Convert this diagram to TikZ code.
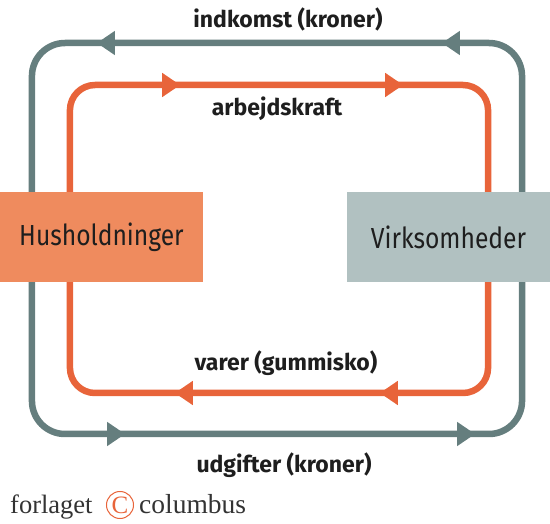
\documentclass[tikz,border=0pt]{standalone}
\usepackage{fontspec}
\setmainfont{Fira Sans}
\newfontfamily\labfont{Fira Sans}
\newfontfamily\boxfont{Fira Sans}[FakeStretch=0.85]
\newfontfamily\logofont{Liberation Serif}
\usetikzlibrary{arrows.meta,decorations.markings}
\definecolor{greyline}{HTML}{657E7E}
\definecolor{orangeline}{HTML}{E8643A}
\definecolor{orangebox}{HTML}{EF8B5E}
\definecolor{greybox}{HTML}{B1C1C1}
\definecolor{txt}{HTML}{1E1E1E}
\definecolor{logotxt}{HTML}{333333}
\tikzset{
  flowbox/.style={minimum width=203pt,minimum height=90pt,inner sep=0pt,font=\boxfont\fontsize{29}{30}\selectfont,text=txt},
  loopline/.style={line width=6.5pt},
  flowlabel/.style={font=\labfont\bfseries\fontsize{23}{25}\selectfont,text=txt,inner sep=0pt},
  mk/.style 2 args={postaction=decorate,decoration={markings,
     mark=at position #1pt with {\arrow{Triangle[length=18pt,width=23pt]}},
     mark=at position #2pt with {\arrow{Triangle[length=18pt,width=23pt]}}}}
}
\begin{document}
\begin{tikzpicture}[x=1pt,y=-1pt]
\useasboundingbox (0,0) rectangle (550,524);
\node[flowbox,fill=orangebox] (H) at (101.5,237) {Husholdninger};
\node[flowbox,fill=greybox] (V) at (448.5,237) {Virksomheder};
% grey top: indkomst
\draw[loopline,draw=greyline,rounded corners=33pt,mk={214.8}{559.8}]
  ([xshift=-28pt]V.north east) -- (522,43) -- (32,43) -- ([xshift=32pt]H.north west);
% orange top: arbejdskraft
\draw[loopline,draw=orangeline,rounded corners=25pt,mk={206.3}{429.3}]
  ([xshift=70pt]H.north west) -- (70,85) -- (488,85) -- ([xshift=-62pt]V.north east);
% orange bottom: varer
\draw[loopline,draw=orangeline,rounded corners=25pt,mk={208.3}{413.3}]
  ([xshift=-62pt]V.south east) -- (488,393) -- (70,393) -- ([xshift=70pt]H.south west);
% grey bottom: udgifter
\draw[loopline,draw=greyline,rounded corners=33pt,mk={230.8}{580.8}]
  ([xshift=32pt]H.south west) -- (32,434) -- (522,434) -- ([xshift=-28pt]V.south east);
\node[flowlabel] (l1) at (288,19) {indkomst (kroner)};
\node[flowlabel] (l2) at (277,109) {arbejdskraft};
\node[flowlabel] (l3) at (286,363) {varer (gummisko)};
\node[flowlabel] (l4) at (284,465) {udgifter (kroner)};
% logo
\node[anchor=base west,inner sep=0pt,font=\logofont\fontsize{26.5}{28}\selectfont,text=logotxt] (f1) at (10,513) {forlaget};
\node[circle,draw=orangeline,line width=1pt,minimum size=27pt,inner sep=0pt,font=\logofont\fontsize{25}{25}\selectfont,text=orangeline] (f2) at (120,505) {C};
\node[anchor=base west,inner sep=0pt,font=\logofont\fontsize{27.5}{28}\selectfont,text=logotxt] (f3) at (139,513) {columbus};
\end{tikzpicture}
\end{document}
